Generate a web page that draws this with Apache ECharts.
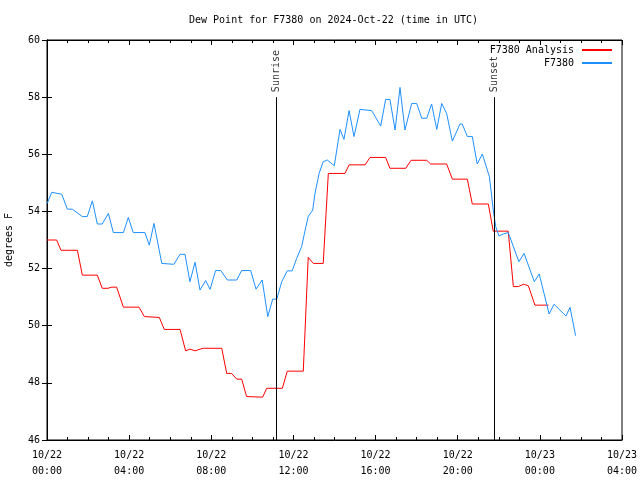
<!DOCTYPE html>
<html>
<head>
<meta charset="utf-8">
<script src="https://cdn.jsdelivr.net/npm/echarts@6/dist/echarts.min.js"></script>
<style>
html,body{margin:0;padding:0;background:#fff;}
#c{width:640px;height:480px;}
</style>
</head>
<body>
<div id="c"></div>
<script>
const chartTitle = 'Dew Point for F7380 on 2024-Oct-22 (time in UTC)';
const xTickLabels = ['10/22\n00:00','10/22\n04:00','10/22\n08:00','10/22\n12:00','10/22\n16:00','10/22\n20:00','10/23\n00:00','10/23\n04:00'];
// hours since 2024-10-22 00:00 UTC
const obsHours = [0.01,0.23,0.72,0.99,1.23,1.72,1.96,2.21,2.45,2.69,2.99,3.23,3.72,3.96,4.20,4.77,4.98,5.21,5.59,6.18,6.48,6.72,6.96,7.21,7.45,7.73,7.94,8.21,8.46,8.78,9.24,9.48,9.92,10.18,10.48,10.75,10.99,11.19,11.43,11.70,11.94,12.16,12.40,12.56,12.72,12.94,13.05,13.25,13.45,13.65,13.99,14.27,14.46,14.71,14.95,15.24,15.81,16.25,16.49,16.70,16.95,17.19,17.43,17.76,18.00,18.25,18.49,18.73,18.98,19.22,19.46,19.74,20.11,20.22,20.47,20.71,20.95,21.20,21.54,21.65,21.73,21.85,22.01,22.22,22.46,22.98,23.23,23.73,23.97,24.45,24.69,25.27,25.47,25.74];
const obsValues = [54.28,54.67,54.60,54.08,54.08,53.82,53.82,54.37,53.56,53.56,53.93,53.26,53.26,53.79,53.26,53.26,52.82,53.58,52.18,52.15,52.50,52.50,51.54,52.22,51.25,51.58,51.27,51.93,51.93,51.60,51.60,51.93,51.93,51.28,51.60,50.32,50.93,50.93,51.54,51.92,51.92,52.36,52.77,53.31,53.82,54.05,54.63,55.33,55.74,55.80,55.60,56.87,56.52,57.53,56.62,57.57,57.53,56.99,57.92,57.92,56.85,58.34,56.85,57.78,57.78,57.26,57.26,57.76,56.87,57.78,57.43,56.46,57.06,57.06,56.62,56.62,55.66,56.01,55.22,54.57,54.05,53.47,53.14,53.21,53.26,52.24,52.53,51.54,51.81,50.41,50.75,50.34,50.64,49.65];
const anaHours = [0.00,0.47,0.68,1.48,1.72,2.45,2.69,2.97,3.15,3.39,3.72,4.48,4.74,5.47,5.71,6.48,6.75,6.96,7.21,7.45,7.61,8.51,8.75,8.99,9.24,9.48,9.72,10.50,10.70,11.46,11.70,12.48,12.72,12.97,13.45,13.70,14.51,14.71,15.49,15.73,16.49,16.70,17.47,17.73,18.49,18.68,19.46,19.74,20.47,20.71,21.49,21.73,22.46,22.71,22.95,23.20,23.44,23.76,24.42];
const anaValues = [53.00,53.00,52.64,52.64,51.77,51.77,51.31,51.31,51.35,51.35,50.65,50.65,50.32,50.29,49.87,49.87,49.12,49.18,49.12,49.18,49.21,49.21,48.33,48.33,48.13,48.13,47.52,47.50,47.81,47.81,48.41,48.41,52.39,52.18,52.18,55.33,55.33,55.63,55.63,55.89,55.89,55.51,55.51,55.79,55.79,55.66,55.66,55.13,55.13,54.26,54.26,53.31,53.31,51.37,51.37,51.45,51.40,50.72,50.72];
const sunEvents = [{name:'Sunrise', hour:11.18}, {name:'Sunset', hour:21.77}];
const sunLineTop = 58;

const FONT = 'DejaVu Sans Mono';
const chart = echarts.init(document.getElementById('c'), null, {renderer:'canvas'});

const mk = (hs, vs) => hs.map((h, i) => [h, vs[i]]);

const tickStyle = {show:true, inside:true, length:5, lineStyle:{color:'#000', width:1}};
const minorStyle = {show:true, splitNumber:4, length:3, lineStyle:{color:'#000', width:1}};

chart.setOption({
  animation:false,
  backgroundColor:'#fff',
  title:{text:chartTitle, left:189, top:15, textStyle:{fontFamily:FONT, fontSize:10, fontWeight:'normal', color:'#000'}, padding:0},
  grid:{left:47, right:18, top:40, bottom:40, show:true, borderColor:'#000', borderWidth:1, containLabel:false, outerBoundsMode:'none'},
  legend:{
    data:['F7380 Analysis','F7380'], orient:'vertical', align:'right', right:28, top:45,
    icon:'rect',
    itemWidth:30, itemHeight:2, itemGap:3, padding:0,
    textStyle:{fontFamily:FONT, fontSize:10, lineHeight:10, color:'#000', padding:[0,3,0,0]}
  },
  xAxis:[{
    type:'value', min:0, max:28, interval:4, position:'bottom',
    axisLine:{show:true, lineStyle:{color:'#000'}},
    axisTick:tickStyle, minorTick:minorStyle,
    splitLine:{show:false},
    axisLabel:{show:true, color:'#000', fontFamily:FONT, fontSize:10, lineHeight:16, margin:7,
      showMinLabel:true, showMaxLabel:true,
      formatter:(v)=>xTickLabels[Math.round(v/4)]}
  },{
    type:'value', min:0, max:28, interval:4, position:'top',
    axisLine:{show:true, lineStyle:{color:'#000'}},
    axisTick:tickStyle, minorTick:minorStyle,
    splitLine:{show:false}, axisLabel:{show:false}
  }],
  yAxis:[{
    type:'value', min:46, max:60, interval:2, position:'left',
    name:'degrees F', nameLocation:'middle', nameGap:33, nameRotate:90,
    nameTextStyle:{fontFamily:FONT, fontSize:10, color:'#000'},
    axisLine:{show:true, lineStyle:{color:'#000'}},
    axisTick:tickStyle, splitLine:{show:false},
    axisLabel:{color:'#000', fontFamily:FONT, fontSize:10, margin:7}
  },{
    type:'value', min:46, max:60, interval:2, position:'right',
    axisLine:{show:true, lineStyle:{color:'#000'}},
    axisTick:tickStyle, splitLine:{show:false}, axisLabel:{show:false}
  }],
  series:[{
    name:'F7380 Analysis', type:'line', data:mk(anaHours, anaValues),
    symbol:'none', showSymbol:false, color:'#ff0000',
    lineStyle:{color:'#ff0000', width:1}, z:2,
    markLine:{
      silent:true, symbol:'none', animation:false,
      lineStyle:{color:'#000', width:1, type:'solid'},
      label:{show:false},
      data:sunEvents.map(e => [{coord:[e.hour, 46]}, {coord:[e.hour, sunLineTop]}])
    }
  },{
    name:'F7380', type:'line', data:mk(obsHours, obsValues),
    symbol:'none', showSymbol:false, color:'#1e90ff',
    lineStyle:{color:'#1e90ff', width:1}, z:3
  },{
    name:'sun labels', type:'scatter', symbolSize:0, silent:true,
    data:sunEvents.map(e => ({value:[e.hour, sunLineTop], name:e.name})),
    label:{show:true, formatter:(p)=>p.name, position:'top', distance:5, rotate:90,
      align:'left', verticalAlign:'middle', fontFamily:FONT, fontSize:10, color:'#000'}
  }]
});
</script>
</body>
</html>
